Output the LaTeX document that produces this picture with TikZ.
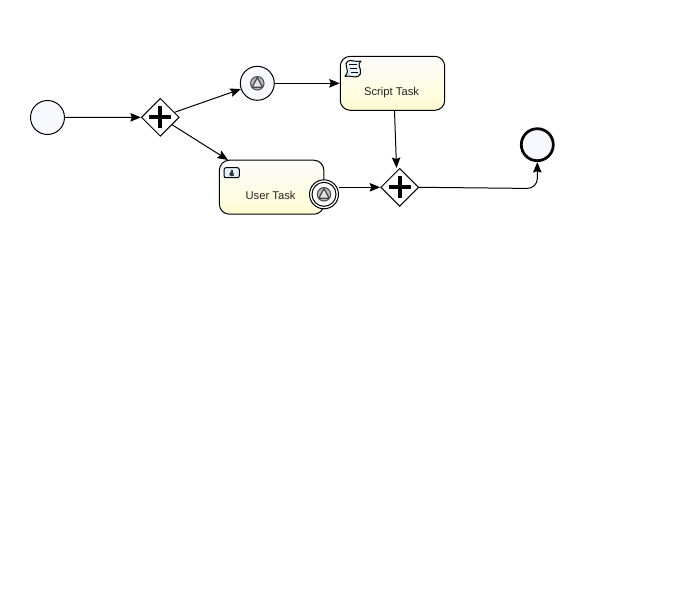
\documentclass[tikz,border=0pt]{standalone}
\usepackage{fontspec}
\setmainfont{Liberation Sans}
\usetikzlibrary{positioning,shapes.geometric,arrows.meta}
\definecolor{eventfill}{HTML}{F8F9FE}
\definecolor{taskyellow}{HTML}{FFFCD2}
\definecolor{iconblue}{HTML}{BFE3F7}
\definecolor{glyphgray}{HTML}{4A4A4A}
\begin{document}
\begin{tikzpicture}[
    x=0.02cm,
    y=-0.02cm,
    line width=0.02cm,
    event/.style={
        draw,
        circle,
        fill=eventfill,
        inner sep=0pt,
        minimum size=0.68cm
    },
    endevent/.style={
        event,
        line width=0.055cm,
        minimum size=0.64cm
    },
    boundary/.style={
        event,
        fill=white,
        minimum size=0.58cm
    },
    gateway/.style={
        draw,
        diamond,
        fill=white,
        inner sep=0pt,
        minimum width=0.76cm,
        minimum height=0.76cm
    },
    task/.style={
        draw,
        rounded corners=0.2cm,
        top color=white!97!gray,
        bottom color=taskyellow,
        minimum width=2.09cm,
        minimum height=1.08cm,
        inner sep=0pt
    },
    tasklabel/.style={
        font=\fontsize{6.4pt}{7pt}\selectfont,
        text=black!85,
        inner sep=0pt
    },
    arrow/.style={
        -{Stealth[length=0.21cm,width=0.17cm,inset=0.03cm]},
        black
    },
    plusmark/.style={
        line width=0.085cm
    },
    glyph/.style={
        draw=glyphgray,
        fill=black!28
    }
]
    \useasboundingbox (0,0) rectangle (683,595);

    % Events and gateways
    \node[event] (start) at (47.5,117.5) {};
    \node[gateway] (split) at (160.3,117.3) {};
    \node[event] (catch) at (257.3,83.3) {};
    \node[task] (script) at (392.5,83.3) {};
    \node[task] (user) at (271.6,187.2) {};
    \node[boundary] (timer) at (324,194.3) {};
    \node[gateway] (join) at (399.7,187.3) {};
    \node[endevent] (finish) at (537.3,144.7) {};

    % Task texts
    \node[tasklabel] (scriptlabel) at ([xshift=-0.02cm,yshift=-0.18cm]script.center) {Script Task};
    \node[tasklabel] (userlabel) at ([xshift=-0.02cm,yshift=-0.16cm]user.center) {User Task};

    % Free ends of the connectors
    \coordinate (userin) at (228,160);
    \coordinate (joinin) at (396.5,168);
    \coordinate (scriptout) at (394.5,110.3);
    \coordinate (bend) at (537.3,188.5);

    % Connecting arrows
    \draw[arrow] (start) -- (split);
    \draw[arrow] (split) -- (catch);
    \draw[arrow] (split) -- (userin);
    \draw[arrow] (catch) -- (script);
    \draw[arrow] (scriptout) -- (joinin);
    \draw[arrow] (timer.east |- join.west) -- (join.west);
    \draw[arrow, rounded corners=0.2cm] (join.east) -- (bend) -- (finish.south);

    % Gateway marks
    \foreach \gw in {split, join} {
        \draw[plusmark] ([xshift=-0.22cm]\gw.center) -- ([xshift=0.22cm]\gw.center);
        \draw[plusmark] ([yshift=-0.22cm]\gw.center) -- ([yshift=0.22cm]\gw.center);
    }

    % Boundary ring and event glyphs
    \draw (timer.center) circle (0.24cm);
    \foreach \ev in {catch, timer} {
        \draw[glyph] (\ev.center) circle (0.135cm);
        \draw[draw=glyphgray, fill=white!90!black, line width=0.025cm, line join=round]
            ([yshift=0.115cm]\ev.center) -- ([xshift=-0.105cm,yshift=-0.08cm]\ev.center)
            -- ([xshift=0.105cm,yshift=-0.08cm]\ev.center) -- cycle;
    }

    % Script icon
    \draw[fill=iconblue!40, line join=round]
        (348,61) .. controls (352,59.5) and (356,62.5) .. (361,61)
        .. controls (358,64) and (359,67) .. (360.5,70)
        .. controls (361.5,73) and (360,75.5) .. (358,76.5)
        .. controls (354,78) and (350,75) .. (345,76.5)
        .. controls (348,73) and (348,70) .. (346.5,67)
        .. controls (345,64.5) and (346,62) .. (348,61) -- cycle;
    \draw (349,64.5) -- (356.5,64.5);
    \draw (350,68.5) -- (357,68.5);
    \draw (350.5,72.5) -- (357.5,72.5);

    % User icon
    \draw[fill=iconblue!45, rounded corners=0.04cm] (224,167.7) rectangle (239.3,177.7);
    \fill[black!80] (231.6,174) circle (0.045cm);
    \fill[black!80] (230.6,170) rectangle (232.6,171.5);
    \fill[black!80] (229.6,175) rectangle (233.6,176);
\end{tikzpicture}
\end{document}
